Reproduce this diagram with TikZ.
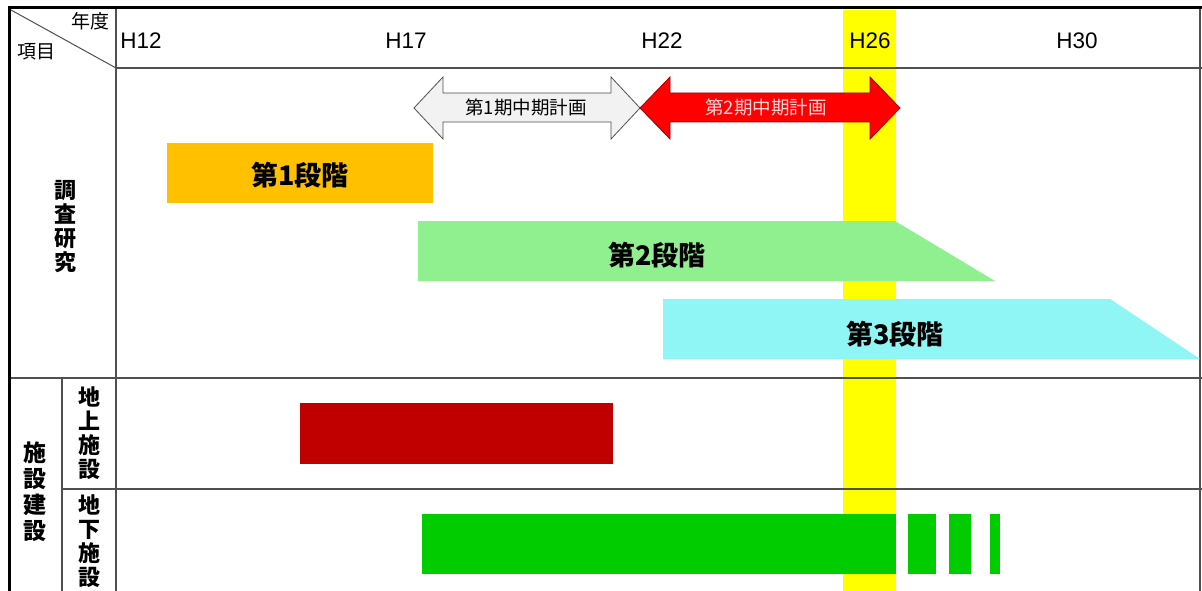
\documentclass[tikz,border=0pt]{standalone}
\usepackage{fontspec}
\setmainfont{Liberation Sans}
\newfontfamily\jp{Noto Sans CJK JP}
\definecolor{gridgray}{HTML}{505050}
\definecolor{stageorange}{HTML}{FFC000}
\definecolor{stagegreen}{HTML}{90F090}
\definecolor{stagecyan}{HTML}{90F5F5}
\definecolor{bandyellow}{HTML}{FFFF00}
\definecolor{barred}{HTML}{C00000}
\definecolor{bargreen}{HTML}{00CC00}
\definecolor{arrowred}{HTML}{FF0000}
\definecolor{arrowredline}{HTML}{A00000}
\definecolor{arrowgray}{HTML}{F2F2F2}
\begin{document}
\begin{tikzpicture}[x=1pt,y=-1pt,
  gridline/.style={draw=gridgray,line width=1.2pt},
  frameline/.style={draw=black,line width=3pt},
  yearlabel/.style={font=\fontsize{22.5}{22.5}\selectfont,inner sep=0pt},
  stagelabel/.style={font=\jp\bfseries\fontsize{27}{27}\selectfont,inner sep=0pt},
  arrowlabel/.style={font=\jp\fontsize{18.5}{18.5}\selectfont,inner sep=0pt},
  vlabel/.style={font=\jp\bfseries\fontsize{22}{24}\selectfont,align=center,inner sep=0pt},
  headlabel/.style={font=\jp\fontsize{19}{19}\selectfont,inner sep=0pt}]
\useasboundingbox (0,0) rectangle (1202,591);
\fill[white] (0,0) rectangle (1202,591);
% yellow band
\fill[bandyellow] (843,10) rectangle (896,591);
% grid lines
\draw[gridline] (116,68) -- (1202,68);
\draw[gridline] (9,378) -- (1202,378);
\draw[gridline] (62,489) -- (1202,489);
\draw[gridline] (116,8) -- (116,591);
\draw[gridline] (62,378) -- (62,591);
\draw[gridline] (1200,8) -- (1200,591);
\draw[gridline,line width=1pt] (11,10) -- (116,68);
\draw[frameline] (8,8) -- (1202,8);
\draw[frameline] (9,7) -- (9,591);
% header
\node[headlabel] (nendo) at (90,21) {年度};
\node[headlabel] (koumoku) at (36,52) {項目};
\node[yearlabel] (h12) at (141,41) {H12};
\node[yearlabel] (h17) at (406,41) {H17};
\node[yearlabel] (h22) at (662,41) {H22};
\node[yearlabel] (h26) at (870,41) {H26};
\node[yearlabel] (h30) at (1077,41) {H30};
% row labels
\node[vlabel] (chousa) at (65,227) {調\\査\\研\\究};
\node[vlabel,font=\jp\bfseries\fontsize{23}{26}\selectfont] (shisetsu) at (35,492) {施\\設\\建\\設};
\node[vlabel] (chijou) at (89,433) {地\\上\\施\\設};
\node[vlabel] (chika) at (89,541) {地\\下\\施\\設};
% period arrows
\filldraw[fill=arrowgray,draw=gridgray,line width=0.8pt]
  (414,108) -- (443,77) -- (443,93) -- (611,93) -- (611,77) -- (640,108)
  -- (611,139) -- (611,122) -- (443,122) -- (443,139) -- cycle;
\node[arrowlabel] (ki1) at (526,107) {第1期中期計画};
\filldraw[fill=arrowred,draw=arrowredline,line width=0.8pt]
  (640,108) -- (670,77) -- (670,93) -- (870,93) -- (870,77) -- (900,108)
  -- (870,139) -- (870,122) -- (670,122) -- (670,139) -- cycle;
\node[arrowlabel,text=white!85!red] (ki2) at (766,107) {第2期中期計画};
% stages
\fill[stageorange] (167,143) rectangle (433,203);
\node[stagelabel] (st1) at (300,175) {第1段階};
\fill[stagegreen] (418,221) -- (895,221) -- (995,281) -- (418,281) -- cycle;
\node[stagelabel] (st2) at (657,255) {第2段階};
\fill[stagecyan] (663,299) -- (1110,299) -- (1200,359) -- (663,359) -- cycle;
\node[stagelabel] (st3) at (895,334) {第3段階};
% facility bars
\fill[barred] (300,403) rectangle (613,464);
\fill[bargreen] (422,514) rectangle (896,574);
\fill[bargreen] (908,514) rectangle (936,574);
\fill[bargreen] (949,514) rectangle (971,574);
\fill[bargreen] (990,514) rectangle (1000,574);
\end{tikzpicture}
\end{document}
